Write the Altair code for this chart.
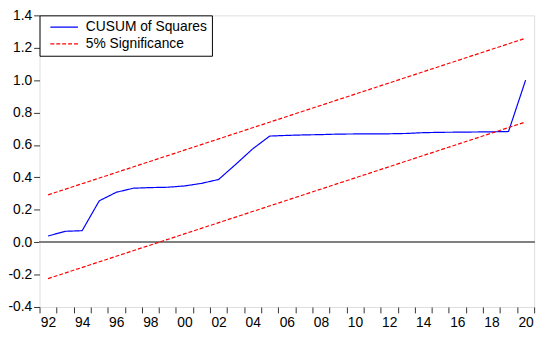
import altair as alt
import pandas as pd

years = list(range(1992, 2021))
cusum = [0.038, 0.067, 0.071, 0.255, 0.308, 0.333, 0.337, 0.339, 0.347, 0.363,
         0.387, 0.480, 0.576, 0.655, 0.659, 0.662, 0.664, 0.667, 0.668, 0.668,
         0.669, 0.671, 0.676, 0.678, 0.679, 0.680, 0.681, 0.683, 1.000]
band_years = [1992, 2020]
upper = [0.292, 1.259]
lower = [-0.225, 0.742]
y_ticks = [-0.4, -0.2, 0.0, 0.2, 0.4, 0.6, 0.8, 1.0, 1.2, 1.4]
x_tick_edges = [y + 0.5 for y in range(1991, 2021)]

S1 = "CUSUM of Squares"
S2 = "5% Significance"

rows = []
for yr, v in zip(years, cusum):
    rows.append({"year": yr, "value": v, "series": S1, "line": "cusum"})
for yr, v in zip(band_years, upper):
    rows.append({"year": yr, "value": v, "series": S2, "line": "upper"})
for yr, v in zip(band_years, lower):
    rows.append({"year": yr, "value": v, "series": S2, "line": "lower"})
df = pd.DataFrame(rows)

FONT = "Liberation Sans"

x_enc = alt.X("year:Q",
              scale=alt.Scale(domain=[1991.5, 2020.5], nice=False, zero=False),
              axis=alt.Axis(values=x_tick_edges, tickCount=40, title=None, grid=False, domain=False,
                            tickSize=6, tickColor="#333333",
                            labelExpr="floor(datum.value) % 2 == 0 ? substring(toString(floor(datum.value)), 2, 4) : ''",
                            labelOffset=-8.66, labelFlush=False, labelOverlap=False,
                            labelPadding=3, labelFontSize=14, labelFont=FONT, labelColor="black"))
y_enc = alt.Y("value:Q",
              scale=alt.Scale(domain=[-0.4, 1.4], nice=False, zero=False),
              axis=alt.Axis(values=y_ticks, tickCount=20, title=None, grid=False, domain=False,
                            tickSize=6, tickColor="#333333",
                            labelExpr="replace(format(datum.value, '.1f'), '\u2212', '-')",
                            labelPadding=2, labelFontSize=14, labelFont=FONT, labelColor="black",
                            labelFlush=False, labelOverlap=False))

legend = alt.Legend(title=None, orient="top-left", offset=0,
                    symbolType="stroke", symbolSize=784, symbolStrokeWidth=1.2,
                    symbolOffset=5, clipHeight=14,
                    labelFontSize=14, labelFont=FONT, labelColor="black",
                    labelOffset=7, padding=5, rowPadding=3,
                    strokeColor="black", fillColor="white", cornerRadius=0)

lines = alt.Chart(df).mark_line(strokeWidth=1.2).encode(
    x=x_enc,
    y=y_enc,
    detail="line:N",
    color=alt.Color("series:N",
                    scale=alt.Scale(domain=[S1, S2], range=["#0000FF", "#FF0000"]),
                    legend=legend),
    strokeDash=alt.StrokeDash("series:N",
                              scale=alt.Scale(domain=[S1, S2], range=[[1, 0], [4, 2]]),
                              legend=legend),
)

zero = alt.Chart(df).mark_rule(color="#808080", strokeWidth=1).encode(
    y=alt.datum(0.0)
)

chart = alt.layer(zero, lines).properties(
    width=502, height=296,
    padding={"left": 32, "top": 5, "right": 8, "bottom": 28},
    autosize=alt.AutoSizeParams(type="none"),
).configure_view(stroke="#333333", strokeWidth=1.5).configure(background="white")

chart.save("out.html", embed_options={"renderer": "svg", "actions": False})
